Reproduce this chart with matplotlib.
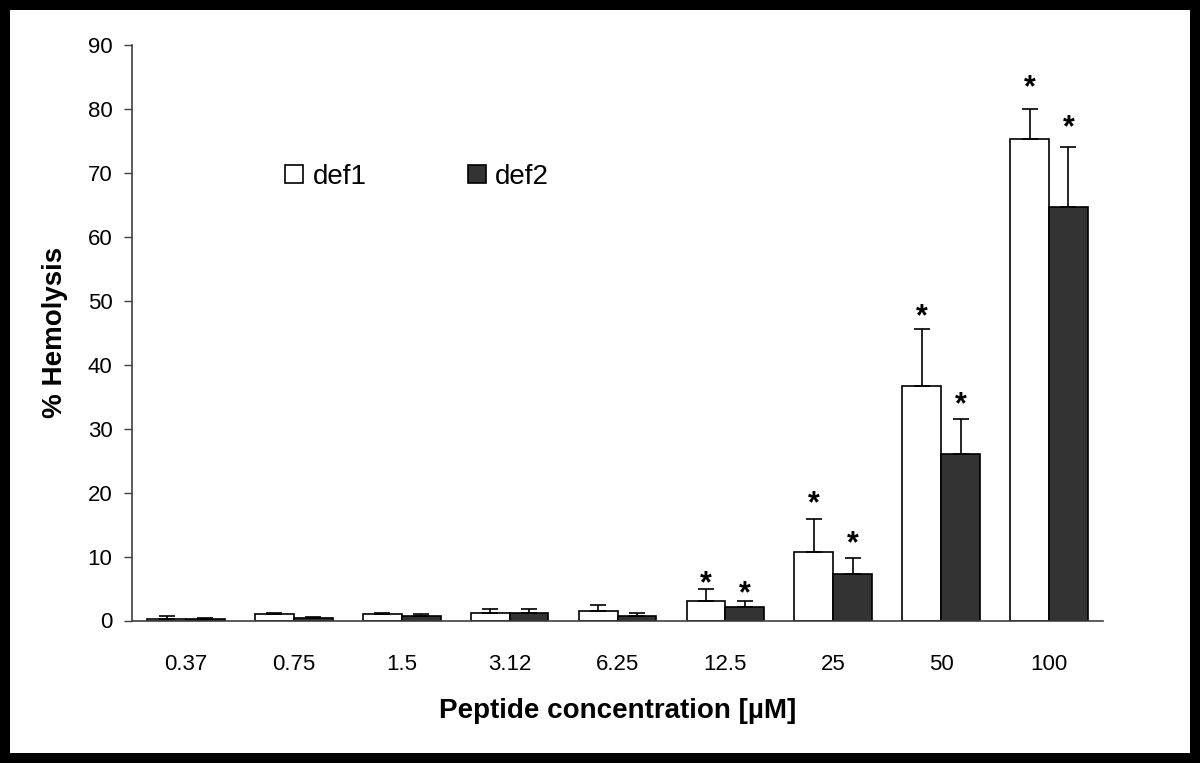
import matplotlib
matplotlib.use("Agg")
import matplotlib.pyplot as plt
from matplotlib.patches import Rectangle
import numpy as np

# data
conc = ['0.37', '0.75', '1.5', '3.12', '6.25', '12.5', '25', '50', '100']
def1 = [0.3, 1.0, 1.0, 1.2, 1.5, 3.0, 10.7, 36.7, 75.2]
def1_err = [0.35, 0.25, 0.25, 0.6, 0.9, 1.9, 5.1, 8.8, 4.8]
def2 = [0.3, 0.4, 0.7, 1.2, 0.65, 2.1, 7.3, 26.1, 64.6]
def2_err = [0.1, 0.1, 0.27, 0.6, 0.47, 0.9, 2.4, 5.4, 9.4]

# significance stars (index, height)
stars_def1 = [(5, 7.1), (6, 19.6), (7, 48.9), (8, 84.6)]
stars_def2 = [(5, 5.5), (6, 13.4), (7, 35.1), (8, 78.4)]

plt.rcParams['font.family'] = ['Liberation Sans', 'DejaVu Sans']

fig = plt.figure(figsize=(12, 7.63), dpi=100)
fig.patch.set_facecolor('white')
# black frame round the picture
fig.patches.append(Rectangle((0, 0), 1, 1, transform=fig.transFigure, fill=False,
                             edgecolor='black', linewidth=14.4, zorder=5))

ax = fig.add_axes([132 / 1200, (763 - 620.5) / 763, 971 / 1200, 575.8 / 763])
ax.set_facecolor('none')

x = np.arange(len(conc))
w = 0.36
ekw = dict(elinewidth=1.2, capthick=1.2, ecolor='black')
ax.bar(x - w / 2, def1, w, color='white', edgecolor='black', linewidth=1.2,
       yerr=[np.zeros(len(x)), def1_err], capsize=5.5, error_kw=ekw, label='def1')
ax.bar(x + w / 2, def2, w, color='#333333', edgecolor='black', linewidth=1.2,
       yerr=[np.zeros(len(x)), def2_err], capsize=5.5, error_kw=ekw, label='def2')

for i, y in stars_def1:
    ax.annotate('*', (x[i] - w / 2, y), xytext=(0, -12.5), textcoords='offset points',
                ha='center', va='baseline', fontsize=22, fontweight='bold')
for i, y in stars_def2:
    ax.annotate('*', (x[i] + w / 2, y), xytext=(0, -12.5), textcoords='offset points',
                ha='center', va='baseline', fontsize=22, fontweight='bold')

ax.set_xlim(-0.5, len(conc) - 0.5)
ax.set_ylim(0, 90)
ax.set_yticks(range(0, 91, 10))
ax.set_xticks(x)
ax.set_xticklabels(conc)
ax.tick_params(axis='x', length=0, pad=24, labelsize=16)
ax.tick_params(axis='y', direction='out', length=6, width=1, color='#404040',
               pad=8, labelsize=16)

for s in ['top', 'right']:
    ax.spines[s].set_visible(False)
for s in ['left', 'bottom']:
    ax.spines[s].set_color('#404040')
    ax.spines[s].set_linewidth(1.2)

ax.set_ylabel('% Hemolysis', fontsize=20, fontweight='bold', labelpad=14)
ax.set_xlabel('Peptide concentration [µM]', fontsize=20, fontweight='bold',
              labelpad=17)

ax.legend(loc='center left', bbox_to_anchor=(0.158, 0.770), ncol=2, frameon=False,
          fontsize=20, handlelength=0.63, handleheight=0.63, handletextpad=0.35,
          columnspacing=3.65, borderpad=0, borderaxespad=0)

plt.savefig('out.png', dpi=100)
